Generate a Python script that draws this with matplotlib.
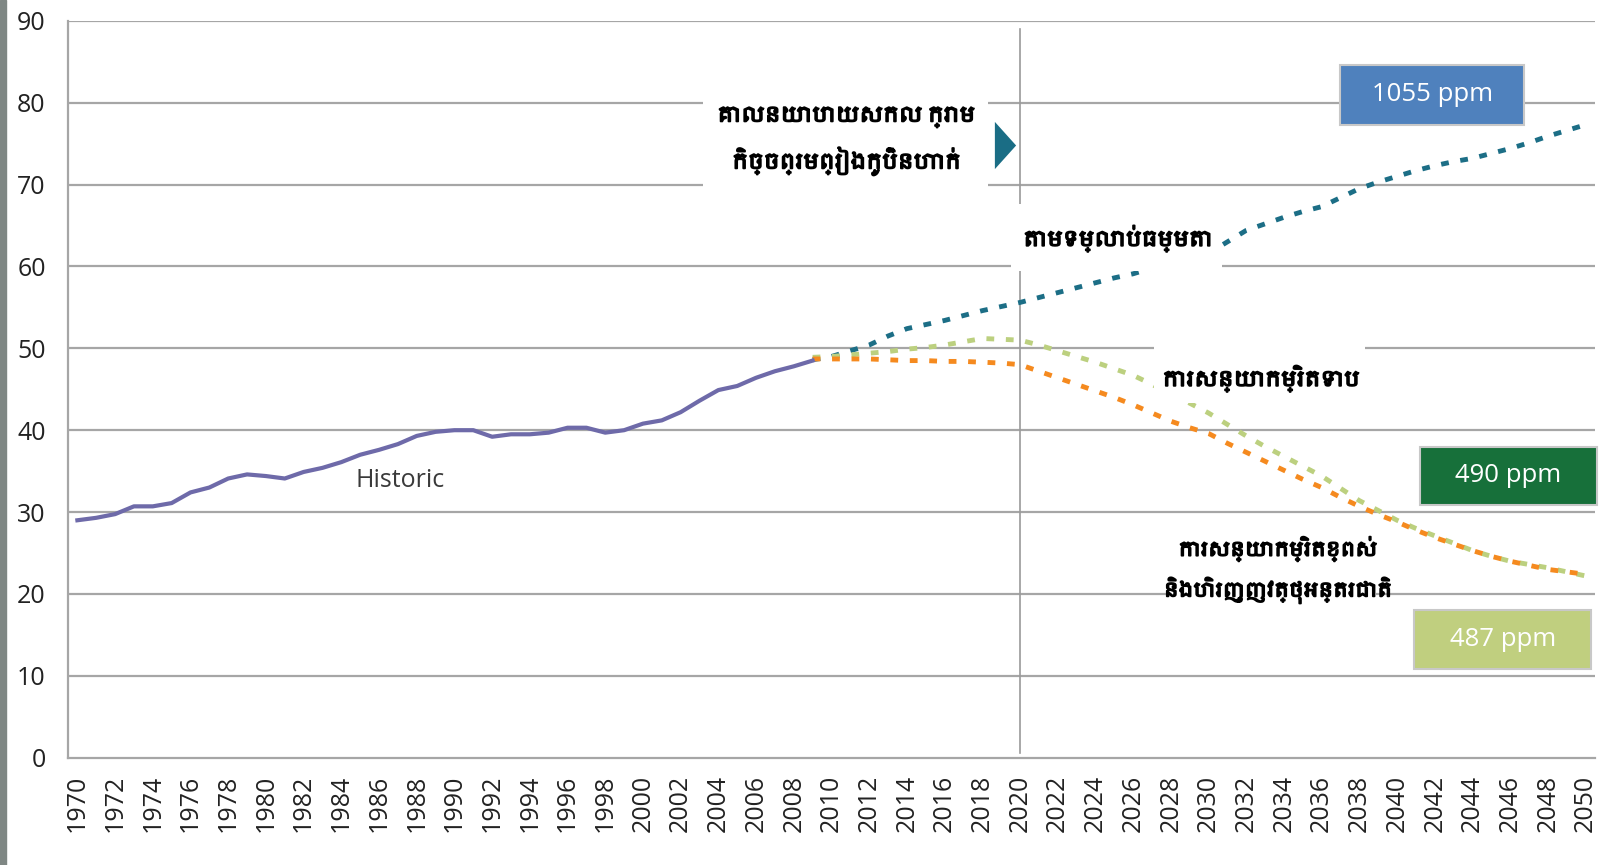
import matplotlib
matplotlib.use("Agg")
import matplotlib.pyplot as plt
import matplotlib.patheffects as pe
from matplotlib import font_manager
from matplotlib.patches import Rectangle

# historic emissions (Gt CO2)
hist_years = list(range(1970, 2010))
hist_vals = [29.0, 29.3, 29.75, 30.7, 30.7, 31.1, 32.4, 33.0, 34.1, 34.6,
             34.4, 34.1, 34.9, 35.4, 36.1, 37.0, 37.6, 38.3, 39.3, 39.8,
             40.0, 40.0, 39.2, 39.5, 39.5, 39.7, 40.3, 40.3, 39.7, 40.0,
             40.8, 41.2, 42.2, 43.6, 44.9, 45.4, 46.4, 47.2, 47.8, 48.5]

proj_years = list(range(2009, 2051))
bau_vals = [48.6, 49.0, 49.7, 50.4, 51.5, 52.4, 52.9, 53.4, 54.0, 54.6,
            55.1, 55.6, 56.2, 56.8, 57.4, 58.0, 58.6, 59.1, 59.8, 60.4,
            61.0, 61.6, 63.0, 64.4, 65.2, 66.0, 66.7, 67.3, 68.4, 69.5,
            70.3, 71.0, 71.7, 72.3, 72.8, 73.2, 73.8, 74.4, 75.1, 75.9,
            76.6, 77.3]
low_vals = [48.9, 49.0, 49.2, 49.4, 49.6, 49.9, 50.1, 50.4, 50.8, 51.2,
            51.1, 51.0, 50.4, 49.7, 49.0, 48.3, 47.5, 46.7, 45.6, 44.4,
            43.3, 42.1, 40.7, 39.3, 38.0, 36.8, 35.6, 34.4, 32.9, 31.4,
            30.2, 29.0, 28.0, 27.1, 26.2, 25.3, 24.6, 24.0, 23.6, 23.2,
            22.7, 22.2]
high_vals = [48.7, 48.7, 48.7, 48.7, 48.6, 48.5, 48.5, 48.4, 48.4, 48.3,
             48.2, 48.0, 47.2, 46.4, 45.6, 44.8, 44.0, 43.1, 42.1, 41.1,
             40.3, 39.6, 38.4, 37.3, 36.2, 35.1, 34.0, 33.0, 31.8, 30.7,
             29.7, 28.8, 27.8, 26.9, 26.1, 25.3, 24.6, 24.0, 23.5, 23.0,
             22.7, 22.4]

x_ticks = list(range(1970, 2051, 2))
y_ticks = list(range(0, 91, 10))

label_top = "គោលនយោបាយសកល ក្រោម\nកិច្ចព្រមព្រៀងកូប៉ិនហាក់"
label_bau = "តាមទម្លាប់ធម្មតា"
label_low = "ការសន្យាកម្រិតទាប"
label_high = "ការសន្យាកម្រិតខ្ពស់\nនិងហិរញ្ញវត្ថុអន្តរជាតិ"
ppm_labels = ["1055 ppm", "490 ppm", "487 ppm"]

khmer = [f.name for f in font_manager.fontManager.ttflist if "khmer" in f.name.lower()]
khmer_family = khmer[:1] + ["DejaVu Sans"]

plt.rcParams["font.family"] = ["Open Sans", "DejaVu Sans"]

fig = plt.figure(figsize=(15.99, 8.65), dpi=100)
ax = fig.add_axes([0.0425, 0.124, 0.955, 0.852])

fig.patches.append(Rectangle((0, 0), 0.0035, 1, transform=fig.transFigure,
                             color="#7f8784", zorder=0))

for y in y_ticks[1:]:
    ax.axhline(y, color="#a6a6a6", lw=1.6, zorder=1)

ax.axvline(2020, ymin=0.007, ymax=0.989, color="#9a9a9a", lw=1.2, zorder=1)

dots = (0, (1.6, 2.4))
ax.plot(proj_years, bau_vals, color="#1c6e86", lw=3.5, ls=dots, zorder=3)
ax.plot(proj_years, low_vals, color="#bcd07f", lw=3.5, ls=dots, zorder=3)
ax.plot(proj_years, high_vals, color="#f58a1f", lw=3.5, ls=dots, zorder=3)
ax.plot(hist_years, hist_vals, color="#6e6aa9", lw=3, zorder=4)

ax.text(1987.1, 33.9, "Historic", fontsize=18, color="#3a3a3a", ha="center", va="center")

# white masks behind the scenario labels
ax.add_patch(Rectangle((2003.2, 69.4), 15.1, 11.4, fc="white", ec="none", zorder=2))
ax.add_patch(Rectangle((2019.5, 59.5), 11.2, 8.1, fc="white", ec="none", zorder=5))
ax.add_patch(Rectangle((2027.1, 43.3), 11.2, 7.5, fc="white", ec="none", zorder=5))
ax.add_patch(Rectangle((2028.0, 18.0), 10.9, 10.0, fc="white", ec="none", zorder=2))

bold = [pe.withStroke(linewidth=1.3, foreground="black")]
kh = dict(family=khmer_family, color="black", ha="center",
          va="center", zorder=6, path_effects=bold)
ax.text(2010.8, 75.3, label_top, linespacing=1.9, fontsize=15, **kh)
ax.text(2025.2, 63.4, label_bau, fontsize=15, **kh)
ax.text(2032.8, 46.3, label_low, fontsize=15, **kh)
ax.text(2033.7, 22.9, label_high, linespacing=1.9, fontsize=14, **kh)
ax.plot([2019.2], [74.8], marker=[(-0.45, -1), (0.45, 0), (-0.45, 1)], ms=34,
        color="#1a6d85", mew=0, zorder=6)

box_specs = [
    (2037.0, 77.3, 9.76, 7.35, "#4f81bd", 2041.9, 81.0),
    (2041.2, 30.9, 9.4, 7.1, "#17703a", 2045.9, 34.45),
    (2040.9, 10.8, 9.4, 7.2, "#c0cf7f", 2045.6, 14.4),
]
for (x0, y0, w, h, fc, tx, ty), text in zip(box_specs, ppm_labels):
    ax.add_patch(Rectangle((x0, y0), w, h, fc=fc, ec="#c8c8c8", lw=1.5,
                           zorder=6, clip_on=False))
    ax.text(tx, ty, text, fontsize=18.5, color="white", ha="center",
            va="center", zorder=7)

ax.set_xlim(1969.5, 2050.5)
ax.set_ylim(0, 90)
ax.set_xticks(x_ticks)
ax.set_xticklabels([str(v) for v in x_ticks], rotation=90)
ax.set_yticks(y_ticks)
ax.tick_params(length=0, labelsize=18, colors="#222222")
ax.tick_params(axis="x", pad=12)
ax.tick_params(axis="y", pad=16)
for side in ["top", "right"]:
    ax.spines[side].set_visible(False)
for side in ["left", "bottom"]:
    ax.spines[side].set_color("#a6a6a6")
    ax.spines[side].set_linewidth(1.6)

fig.savefig("out.png", dpi=100)
